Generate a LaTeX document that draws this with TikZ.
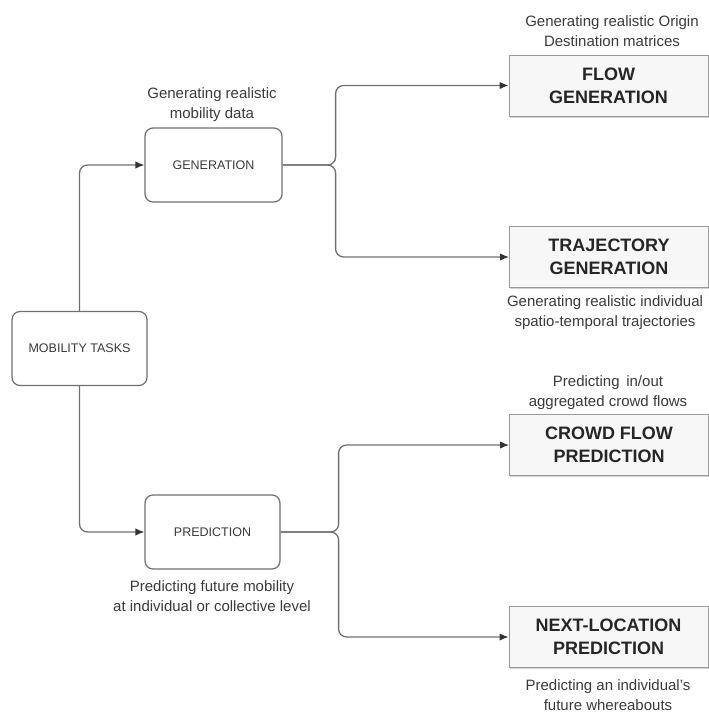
\documentclass[tikz,border=0pt]{standalone}
\usepackage{fontspec}
\setmainfont{Liberation Sans}
\usetikzlibrary{arrows.meta,shadows}
\definecolor{linegray}{HTML}{707070}
\definecolor{boxgray}{HTML}{F7F7F7}
\definecolor{bordergray}{HTML}{9A9A9A}
\definecolor{txtgray}{HTML}{3A3A3A}
\tikzset{
  roundbox/.style={draw=linegray, line width=1.2pt, rounded corners=8pt, fill=white,
    minimum width=135pt, minimum height=74pt, inner sep=0pt,
    font=\fontsize{12.5}{15}\selectfont, text=txtgray},
  taskbox/.style={draw=bordergray, line width=1pt, fill=boxgray,
    drop shadow={shadow xshift=0.8pt, shadow yshift=-1.8pt, fill=gray!35, opacity=1},
    minimum width=199pt, minimum height=61pt, inner sep=0pt, align=center,
    font=\fontsize{18}{23}\selectfont\bfseries, text=black!85},
  desc/.style={align=center, inner sep=0pt, text=txtgray,
    font=\fontsize{15}{20.5}\selectfont},
  conn/.style={draw=linegray, line width=1.3pt, rounded corners=8pt},
  arr/.style={-{Latex[length=9pt,width=7.5pt,color=black!80]}}
}
\begin{document}
\begin{tikzpicture}[x=1pt,y=-1pt]
\useasboundingbox (0,0) rectangle (709,713);
% main nodes
\node[roundbox] (mob) at (79.5,348.5) {MOBILITY TASKS};
\node[roundbox, minimum width=137pt] (gen) at (213.5,165) {GENERATION};
\node[roundbox] (pred) at (212.5,532) {PREDICTION};
% task boxes
\node[taskbox] (flow) at (608.5,85.5) {FLOW\\GENERATION};
\node[taskbox] (traj) at (609,257) {TRAJECTORY\\GENERATION};
\node[taskbox] (crowd) at (609,445) {CROWD FLOW\\PREDICTION};
\node[taskbox] (next) at (608.5,637) {NEXT-LOCATION\\PREDICTION};
% descriptions
\node[desc] (dgen) at (212,104.5) {Generating realistic\\mobility data};
\node[desc] (dflow) at (612,31) {Generating realistic Origin\\Destination matrices};
\node[desc] (dtraj) at (605,312.5) {Generating realistic individual\\spatio-temporal trajectories};
\node[desc] (dcrowd) at (608,392.5) {Predicting\, in/out\\aggregated crowd flows};
\node[desc] (dnext) at (608,695) {Predicting an individual's\\future whereabouts};
\node[desc] (dpred) at (212,596) {Predicting future mobility\\at individual or collective level};
% fork points
\path (gen.east) ++(53pt,0) coordinate (gf);
\path (pred.east) ++(58pt,0) coordinate (pf);
% connectors
\draw[conn,arr] (mob.north) |- (gen.west);
\draw[conn,arr] (mob.south) |- (pred.west);
\draw[conn,arr] (gen.east) -- (gf) |- (flow.west);
\draw[conn,arr] (gen.east) -- (gf) |- (traj.west);
\draw[conn,arr] (pred.east) -- (pf) |- (crowd.west);
\draw[conn,arr] (pred.east) -- (pf) |- (next.west);
\end{tikzpicture}
\end{document}
